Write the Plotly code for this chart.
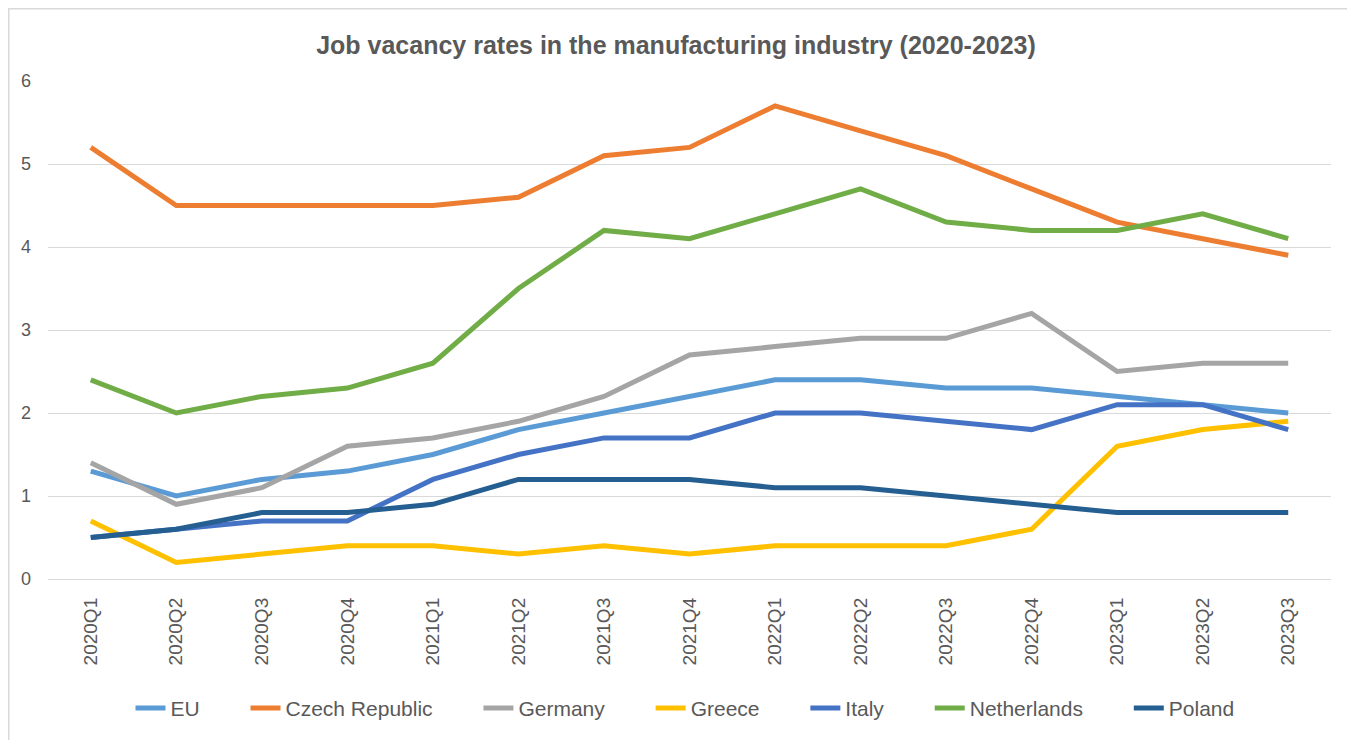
import plotly.graph_objects as go

quarters = ["2020Q1", "2020Q2", "2020Q3", "2020Q4", "2021Q1", "2021Q2", "2021Q3", "2021Q4",
            "2022Q1", "2022Q2", "2022Q3", "2022Q4", "2023Q1", "2023Q2", "2023Q3"]

eu = [1.3, 1.0, 1.2, 1.3, 1.5, 1.8, 2.0, 2.2, 2.4, 2.4, 2.3, 2.3, 2.2, 2.1, 2.0]
czech = [5.2, 4.5, 4.5, 4.5, 4.5, 4.6, 5.1, 5.2, 5.7, 5.4, 5.1, 4.7, 4.3, 4.1, 3.9]
germany = [1.4, 0.9, 1.1, 1.6, 1.7, 1.9, 2.2, 2.7, 2.8, 2.9, 2.9, 3.2, 2.5, 2.6, 2.6]
greece = [0.7, 0.2, 0.3, 0.4, 0.4, 0.3, 0.4, 0.3, 0.4, 0.4, 0.4, 0.6, 1.6, 1.8, 1.9]
italy = [0.5, 0.6, 0.7, 0.7, 1.2, 1.5, 1.7, 1.7, 2.0, 2.0, 1.9, 1.8, 2.1, 2.1, 1.8]
netherlands = [2.4, 2.0, 2.2, 2.3, 2.6, 3.5, 4.2, 4.1, 4.4, 4.7, 4.3, 4.2, 4.2, 4.4, 4.1]
poland = [0.5, 0.6, 0.8, 0.8, 0.9, 1.2, 1.2, 1.2, 1.1, 1.1, 1.0, 0.9, 0.8, 0.8, 0.8]

series_names = ["EU", "Czech Republic", "Germany", "Greece", "Italy", "Netherlands", "Poland"]
series_values = [eu, czech, germany, greece, italy, netherlands, poland]
series_colors = ["#5B9BD5", "#ED7D31", "#A5A5A5", "#FFC000", "#4472C4", "#70AD47", "#255E91"]

FONT = "Liberation Sans, Arial, sans-serif"
TXT = "#595959"
PAD = "\u00a0" * 7

fig = go.Figure()
for i, (name, vals, col) in enumerate(zip(series_names, series_values, series_colors)):
    label = name if i == len(series_names) - 1 else name + PAD
    fig.add_trace(go.Scatter(x=quarters, y=vals, name=label, mode="lines",
                             line=dict(color=col, width=5)))

# page has an 8px body margin; figure pixel coords = screen - 8
FW, FH = 1347, 732
L, R, T, B = 40, 1323, 73, 571.5
W, H = R - L, B - T
def px_x(p):
    return (p - L) / W
def px_y(p):
    return (B - p) / H

fig.update_layout(
    width=FW, height=FH,
    margin=dict(l=L, r=FW - R, t=T, b=FH - B, autoexpand=False),
    paper_bgcolor="white", plot_bgcolor="white",
    font=dict(family=FONT, color=TXT),
    title=dict(text="<b>Job vacancy rates in the manufacturing industry (2020-2023)</b>",
               x=(676 - 8) / FW, xanchor="center", xref="container",
               y=1 - 37 / FH, yanchor="middle",
               font=dict(size=25, color=TXT, family=FONT)),
    showlegend=True,
    legend=dict(orientation="h", x=(685 - 8) / FW, xanchor="center", xref="container",
                y=px_y(701), yanchor="middle",
                font=dict(size=21, color=TXT), itemwidth=30,
                bgcolor="rgba(0,0,0,0)"),
    xaxis=dict(type="category", range=[-0.5, 14.5], showgrid=False, zeroline=False,
               showline=False, ticks="", tickangle=-90, ticklabelstandoff=14,
               tickfont=dict(size=19, color=TXT)),
    yaxis=dict(range=[0, 6], dtick=1, showgrid=True, gridcolor="#D9D9D9", gridwidth=1,
               zeroline=True, zerolinecolor="#D9D9D9", zerolinewidth=1,
               showline=False, ticks="", ticklabelstandoff=16,
               tickfont=dict(size=18, color=TXT)),
    shapes=[dict(type="rect", xref="paper", yref="paper",
                 x0=px_x(0.75), x1=px_x(1346), y0=px_y(740), y1=px_y(0.75),
                 line=dict(color="#D9D9D9", width=1.5), fillcolor="rgba(0,0,0,0)",
                 layer="below")],
)

fig.write_html("out.html")
